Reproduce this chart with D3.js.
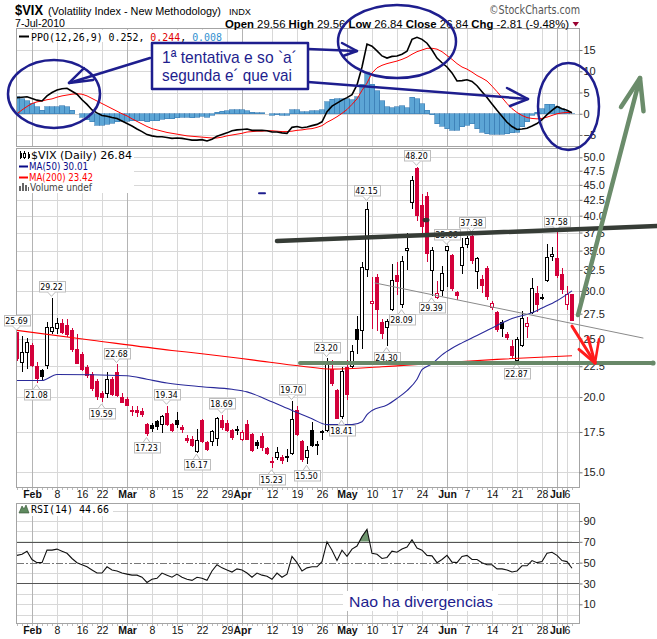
<!DOCTYPE html>
<html><head><meta charset="utf-8"><title>$VIX</title>
<script src="https://cdn.jsdelivr.net/npm/d3@7/dist/d3.min.js"></script>
<style>html,body{margin:0;padding:0;background:#fff}svg{display:block}</style>
</head><body><svg id="chart" width="657" height="639"></svg>
<script>
// ================= DATA =================
const dates = [
"2010-01-27","2010-01-28","2010-01-29",
"2010-02-01","2010-02-02","2010-02-03","2010-02-04","2010-02-05","2010-02-08","2010-02-09","2010-02-10","2010-02-11","2010-02-12",
"2010-02-16","2010-02-17","2010-02-18","2010-02-19","2010-02-22","2010-02-23","2010-02-24","2010-02-25","2010-02-26",
"2010-03-01","2010-03-02","2010-03-03","2010-03-04","2010-03-05","2010-03-08","2010-03-09","2010-03-10","2010-03-11","2010-03-12",
"2010-03-15","2010-03-16","2010-03-17","2010-03-18","2010-03-19","2010-03-22","2010-03-23","2010-03-24","2010-03-25","2010-03-26",
"2010-03-29","2010-03-30","2010-03-31",
"2010-04-01","2010-04-05","2010-04-06","2010-04-07","2010-04-08","2010-04-09","2010-04-12","2010-04-13","2010-04-14","2010-04-15","2010-04-16",
"2010-04-19","2010-04-20","2010-04-21","2010-04-22","2010-04-23","2010-04-26","2010-04-27","2010-04-28","2010-04-29","2010-04-30",
"2010-05-03","2010-05-04","2010-05-05","2010-05-06","2010-05-07","2010-05-10","2010-05-11","2010-05-12","2010-05-13","2010-05-14",
"2010-05-17","2010-05-18","2010-05-19","2010-05-20","2010-05-21","2010-05-24","2010-05-25","2010-05-26","2010-05-27","2010-05-28",
"2010-06-01","2010-06-02","2010-06-03","2010-06-04","2010-06-07","2010-06-08","2010-06-09","2010-06-10","2010-06-11",
"2010-06-14","2010-06-15","2010-06-16","2010-06-17","2010-06-18","2010-06-21","2010-06-22","2010-06-23","2010-06-24","2010-06-25",
"2010-06-28","2010-06-29","2010-06-30","2010-07-01","2010-07-02","2010-07-06","2010-07-07"];

const open = [25.60,22.80,23.70,24.40,22.50,22.10,22.60,25.70,26.00,26.50, 26.30,25.80,24.00,23.50,22.40,21.80,21.20,20.25,20.30,21.40,
 22.00,20.00,19.80,18.90,19.00,18.90,18.00,17.95,18.20,18.00, 18.80,18.00,18.30,17.80,17.10,17.00,16.25,18.30,16.80,16.90,
 17.10,18.30,18.10,17.60,17.65,17.00,18.00,17.30,16.80,17.20, 16.40,15.65,15.90,15.90,15.95,16.10,19.00,16.90,15.90,17.60,
 16.70,17.55,17.60,22.20,20.50,18.60,22.40,22.50,25.90,25.80, 32.60,28.60,31.60,26.60,26.10,28.00,31.80,28.50,35.00,42.00,
 47.90,41.60,43.00,32.40,29.30,30.10,35.00,34.30,29.80,33.10, 35.80,37.00,32.30,31.30,32.70,28.20,27.60,26.60,25.40,24.30,
 23.00,24.40,26.20,27.60,29.70,29.30,31.20,34.20,34.00,31.90, 28.50,29.56];
const high = [25.69,25.30,25.10,24.60,22.90,22.30,26.60,29.22,27.10,26.90, 26.90,26.00,25.40,23.80,22.60,22.00,21.40,20.50,22.00,21.60,
 22.68,20.30,20.00,19.30,19.30,19.20,18.10,18.10,18.30,18.70, 19.34,18.10,18.90,18.00,17.30,17.20,17.70,18.40,16.90,17.60,
 18.50,18.69,18.30,17.70,17.90,17.60,18.30,17.40,17.00,17.40, 16.50,15.90,16.50,16.00,16.40,19.70,19.30,17.00,16.60,18.20,
 16.90,17.60,23.20,23.00,20.60,22.40,23.00,24.40,27.30,33.50, 42.15,31.70,32.00,26.90,27.00,33.30,33.50,34.30,37.50,46.50,
 48.20,43.50,43.80,35.50,31.20,33.00,35.66,34.60,30.00,36.70, 37.00,37.38,34.20,31.90,33.00,28.90,27.80,26.80,25.60,24.90,
 25.20,27.80,27.20,31.50,30.60,29.60,35.90,35.50,37.58,32.80, 30.60,29.56];
const low = [22.95,22.00,22.30,22.40,21.08,21.30,22.30,25.40,25.40,25.40, 25.20,23.80,22.70,22.10,21.50,20.50,19.80,19.59,19.90,20.10,
 20.00,19.60,19.35,18.60,18.50,18.50,17.23,17.50,17.60,17.40, 17.90,17.50,17.80,17.40,16.80,16.50,16.17,16.80,16.30,16.60,
 16.60,17.60,17.50,17.00,17.30,16.90,17.00,16.20,16.40,16.30, 16.00,15.23,15.70,15.50,15.60,16.00,17.20,15.60,15.50,16.50,
 16.00,17.00,17.50,20.90,18.44,18.41,19.80,22.30,23.60,24.00, 31.70,25.90,25.70,25.00,24.30,27.80,29.50,28.09,32.50,41.00,
 39.20,37.50,33.50,29.39,29.10,29.40,30.50,30.00,29.00,32.00, 35.30,33.30,30.20,29.80,29.00,27.90,25.60,25.20,24.90,23.20,
 22.87,24.20,25.10,27.50,27.70,29.00,31.00,33.70,31.50,29.70, 27.90,26.84];
const close = [23.14,23.73,24.62,22.59,21.48,21.60,26.08,26.11,26.51,25.60, 25.40,23.96,22.73,22.25,21.72,20.63,20.02,19.95,21.37,20.20,
 20.10,19.62,19.40,19.00,18.85,18.72,17.42,17.70,17.90,18.57, 17.99,17.58,18.00,17.69,16.91,16.62,16.97,16.87,16.35,17.55,
 18.40,17.77,17.60,17.13,17.59,17.47,17.02,16.28,16.62,16.46, 16.14,15.58,16.20,15.72,15.89,18.36,17.34,15.73,16.32,16.60,
 16.62,17.47,22.81,21.08,18.44,22.05,20.19,23.84,24.91,32.80, 40.95,28.84,28.00,25.52,26.68,31.24,31.10,33.55,35.32,45.79,
 40.10,38.32,34.61,35.02,29.68,32.07,35.54,30.30,29.46,35.48, 36.60,33.70,33.90,30.60,29.40,28.58,25.87,26.00,25.08,23.40,
 24.88,27.00,26.50,30.30,28.50,29.10,34.10,34.54,31.80,30.12, 29.65,26.84];
const prevClose0 = 24.55;

const ma50Dates = ["2010-01-27","2010-02-03","2010-02-08","2010-03-01","2010-03-05","2010-03-11","2010-03-22","2010-03-30","2010-04-05","2010-04-09",
 "2010-04-16","2010-04-22","2010-04-27","2010-05-04","2010-05-06","2010-05-07","2010-05-10","2010-05-13","2010-05-17","2010-05-19",
 "2010-05-21","2010-05-24","2010-05-26","2010-05-28","2010-06-02","2010-06-04","2010-06-09","2010-06-11","2010-06-15","2010-06-18",
 "2010-06-24","2010-06-28","2010-07-01","2010-07-07"];
const ma50Vals = [21.3,21.3,21.8,21.7,21.4,21.1,20.8,20.6,20.4,19.8, 19.0,18.4,18.0,18.0,18.2,18.7,19.0,19.4,19.9,20.5,
 21.4,22.2,22.7,23.5,24.1,24.6,25.3,25.8,26.3,27.0, 27.6,28.1,28.9,30.01];
const ma200Dates = ["2010-01-27","2010-02-18","2010-03-12","2010-03-22","2010-04-06","2010-04-20","2010-04-28","2010-05-12","2010-05-28","2010-06-15","2010-07-07"];
const ma200Vals = [25.8,24.85,23.9,23.6,23.05,22.5,22.25,22.45,22.8,23.1,23.42];

const ppo = [3.8,3.9,4.0,3.6,3.2,3.0,4.2,5.0,5.6,5.9, 6.0,5.3,4.6,3.3,2.2,0.9,0.2,-0.4,-0.6,-0.9,
 -1.1,-1.7,-2.3,-2.9,-3.6,-4.2,-4.9,-5.2,-5.4,-5.4, -5.6,-5.8,-5.7,-5.8,-6.0,-6.2,-6.2,-6.1,-6.4,-6.0,
 -5.3,-4.9,-4.5,-4.0,-3.8,-3.7,-3.6,-3.9,-3.9,-3.9, -4.0,-4.3,-4.3,-4.5,-4.6,-3.2,-3.0,-3.3,-3.1,-2.8,
 -2.5,-1.9,0.5,1.8,2.5,3.2,3.8,4.5,6.8,11.0, 16.4,15.9,14.8,13.6,13.1,13.5,13.6,14.0,14.7,17.5,
 18.0,17.5,16.6,15.0,13.1,12.0,11.0,9.6,7.7,7.8, 8.0,7.6,6.6,5.2,3.8,2.3,0.8,-0.6,-2.0,-3.0,
 -3.7,-3.6,-3.4,-2.9,-2.3,-1.4,-0.2,0.8,1.7,1.2, 0.8,0.252];
const ppoSignal = [0.0,0.9,1.7,2.4,2.8,3.0,3.3,3.5,3.9,4.2, 4.4,4.6,4.7,4.6,4.2,3.6,3.0,2.4,1.8,1.2,
 0.6,0.0,-0.5,-1.2,-1.8,-2.4,-3.0,-3.5,-3.8,-4.1, -4.4,-4.6,-4.8,-5.0,-5.2,-5.3,-5.4,-5.5,-5.6,-5.7,
 -5.7,-5.5,-5.2,-5.0,-4.8,-4.6,-4.3,-4.2,-4.1,-4.1, -4.0,-4.0,-4.1,-4.2,-4.2,-4.1,-3.9,-3.8,-3.6,-3.5,
 -3.2,-2.8,-2.0,-1.4,-0.7,0.1,1.0,2.2,3.5,5.5, 7.2,9.6,10.8,11.4,11.8,12.1,12.4,12.8,13.3,14.0,
 14.6,15.0,15.4,15.4,15.2,14.6,13.7,12.8,11.8,11.0, 10.5,9.8,9.0,8.4,7.7,6.5,5.2,3.8,2.4,1.2,
 0.3,-0.4,-0.9,-1.1,-1.2,-1.1,-0.8,-0.4,0.0,0.2, 0.3,0.244];
const ppoHist = [4.0,3.5,3.1,2.5,1.6,0.8,1.6,1.7,1.7,1.9, 1.6,0.8,0.0,-0.8,-1.4,-1.9,-2.7,-2.7,-2.5,-2.2,
 -1.9,-1.8,-1.8,-1.7,-1.7,-1.6,-1.9,-1.7,-1.6,-1.3, -1.2,-1.2,-0.9,-0.8,-0.8,-0.9,-0.8,-0.6,-0.8,-0.3,
 0.4,0.6,0.7,1.0,1.0,0.9,0.7,0.3,0.2,0.2, 0.0,-0.3,-0.2,-0.3,-0.4,0.9,0.9,0.5,0.5,0.7,
 0.7,0.9,2.8,3.4,3.5,3.5,3.5,3.3,4.0,7.0, 9.7,7.0,5.4,3.1,1.6,1.4,1.6,1.9,1.4,3.9,
 3.5,2.3,0.8,-0.2,-2.3,-2.9,-3.5,-3.9,-3.9,-3.1, -2.7,-2.3,-3.5,-4.3,-4.7,-4.8,-4.8,-4.8,-4.7,-4.5,
 -4.3,-3.1,-1.9,-0.4,0.3,1.2,2.2,2.2,1.7,1.2, 0.6,0.008];

const rsi = [57,58,61,53,50,50,62,62,63,61, 59,54,50,48,46,43,40,40,46,43,
 42,40,39,38,38,36,31,34,35,40, 38,36,39,36,34,33,36,35,33,42,
 48,45,43,41,44,43,40,36,40,38, 37,34,40,36,39,56,50,42,45,46,
 46,51,70,62,52,62,56,63,66,75, 82,59,58,54,55,61,60,63,65,72,
 64,62,57,56.5,50,53,57,50.5,50,56, 57,53,53,50,48,48,44,44,43,41,
 42,47,47,52,50,51,59,60,57,52, 51,44.66];

const priceTicks = [15,17.5,20,22.5,25,27.5,30,32.5,35,37.5,40,42.5,45,47.5,50];
const ppoTicks = [-5,0,5,10,15];
const rsiTicks = [10,30,50,70,90];
const tickDates = ["2010-02-01","2010-02-08","2010-02-16","2010-02-22","2010-03-01","2010-03-08","2010-03-15","2010-03-22","2010-03-29",
 "2010-04-01","2010-04-12","2010-04-19","2010-04-26","2010-05-03","2010-05-10","2010-05-17","2010-05-24",
 "2010-06-01","2010-06-07","2010-06-14","2010-06-21","2010-06-28","2010-07-01","2010-07-06"];
const tickLabels = ["Feb","8","16","22","Mar","8","15","22","29","Apr","12","19","26","May","10","17","24","Jun","7","14","21","28","Jul","6"];

const swingDates = ["2010-01-27","2010-02-05","2010-02-02","2010-02-25","2010-02-22","2010-03-11","2010-03-05","2010-03-26","2010-03-19",
 "2010-04-12","2010-04-16","2010-04-21","2010-04-27","2010-04-30","2010-05-07","2010-05-13","2010-05-21","2010-05-18","2010-05-26",
 "2010-06-01","2010-06-08","2010-06-21","2010-07-01"];
const swingVals = [25.69,29.22,21.08,22.68,19.59,19.34,17.23,18.69,16.17,15.23,19.70,15.50,23.20,18.41,42.15,24.30,48.20,28.09,29.39,35.66,37.38,22.87,37.58];
const swingKind = ["H","H","L","H","L","H","L","H","L","L","H","L","H","L","H","L","H","L","L","H","H","L","H"];

// ================= CHART =================
const svg = d3.select('#chart');
const SANS = 'Liberation Sans, Arial, Helvetica, sans-serif';
const DV = 'DejaVu Sans, Verdana, sans-serif';
const MONO = 'DejaVu Sans Mono, monospace';
const RED = '#d3003a', NAVY = '#0a0a88', ANN = '#1e1e8e';
const GRID = '#d8d8d8', GRIDM = '#b4b4b4', BORDER = '#a4a4a4';
const L = 16.5, R = 579.5;
const P1 = {t: 28.5, b: 146.5}, P2 = {t: 148.5, b: 487.5}, P3 = {t: 503.5, b: 623.5};
const N = dates.length;

const xp = d3.scalePoint().domain(dates).range([17, 572]);
const xi = d3.scaleLinear().domain([0, N - 1]).range([17, 572]);
const yP = d3.scaleLog().domain([50, 15]).range([157.3, 472.3]);
const yO = d3.scaleLinear().domain([15, -5]).range([50, 135]);
const yR = d3.scaleLinear().domain([90, 10]).range([521, 604.3]);
const snap = v => Math.round(v) + 0.5;

svg.append('rect').attr('width', 657).attr('height', 639).attr('fill', '#fff');
const defs = svg.append('defs');
function clip(id, p) {
  defs.append('clipPath').attr('id', id).append('rect')
    .attr('x', L).attr('y', p.t).attr('width', R - L).attr('height', p.b - p.t);
  return `url(#${id})`;
}
const c1 = clip('c1', P1), c2 = clip('c2', P2), c3 = clip('c3', P3);

function panelGrid(p, yScale, yVals) {
  const g = svg.append('g').attr('shape-rendering', 'crispEdges');
  g.selectAll('line.h').data(yVals).join('line')
    .attr('x1', L).attr('x2', R).attr('y1', d => snap(yScale(d))).attr('y2', d => snap(yScale(d)))
    .attr('stroke', GRID);
  g.selectAll('line.v').data(tickDates).join('line')
    .attr('x1', d => snap(xp(d))).attr('x2', d => snap(xp(d))).attr('y1', p.t).attr('y2', p.b)
    .attr('stroke', (d, i) => isNaN(+tickLabels[i]) ? GRIDM : GRID);
  return g;
}
function panelBorder(p) {
  svg.append('rect').attr('x', L).attr('y', p.t).attr('width', R - L).attr('height', p.b - p.t)
    .attr('fill', 'none').attr('stroke', BORDER).attr('shape-rendering', 'crispEdges');
}
function yAxis(scale, ticks, fmt) {
  const g = svg.append('g').attr('transform', `translate(${R},0)`)
    .call(d3.axisRight(scale).tickValues(ticks).tickFormat(fmt).tickSize(3).tickSizeOuter(0).tickPadding(1));
  g.select('.domain').remove();
  g.selectAll('.tick line').attr('stroke', '#777');
  g.selectAll('text').attr('font-family', SANS).attr('font-size', 11).attr('fill', '#222');
}
function xAxis(y) {
  const g = svg.append('g').attr('transform', `translate(0,${y})`)
    .call(d3.axisBottom(xp).tickValues(tickDates).tickFormat((d, i) => tickLabels[i]).tickSize(0).tickPadding(3));
  g.select('.domain').remove();
  g.selectAll('text').attr('font-family', SANS).attr('font-size', 10.5).attr('fill', '#111')
    .attr('font-weight', (d, i) => isNaN(+tickLabels[i]) ? 'bold' : 'normal');
  svg.append('g').attr('shape-rendering', 'crispEdges').selectAll('line').data(dates).join('line')
    .attr('x1', d => snap(xp(d))).attr('x2', d => snap(xp(d))).attr('y1', y + 0.5).attr('y2', y + 2.5)
    .attr('stroke', '#bbb');
}

// ---------- PPO panel ----------
panelGrid(P1, yO, ppoTicks);
const gO = svg.append('g').attr('clip-path', c1);
gO.append('g').attr('shape-rendering', 'crispEdges').selectAll('rect').data(ppoHist).join('rect')
  .attr('x', (v, i) => xp(dates[i]) - 2.5).attr('width', 5)
  .attr('y', v => Math.min(yO(v), yO(0))).attr('height', v => Math.abs(yO(v) - yO(0)))
  .attr('fill', '#5ca5d5').attr('stroke', '#3a7db4').attr('stroke-width', 0.6);
gO.append('path').datum(ppoSignal)
  .attr('d', d3.line().x((v, i) => xp(dates[i])).y(v => yO(v)))
  .attr('fill', 'none').attr('stroke', '#f00').attr('stroke-width', 1);
gO.append('path').datum(ppo)
  .attr('d', d3.line().x((v, i) => xp(dates[i])).y(v => yO(v)))
  .attr('fill', 'none').attr('stroke', '#000').attr('stroke-width', 1.6);
panelBorder(P1);
yAxis(yO, ppoTicks, d3.format('d'));
// legend
svg.append('rect').attr('x', 17).attr('y', 30).attr('width', 208).attr('height', 12).attr('fill', '#fff');
svg.append('line').attr('x1', 19).attr('x2', 29).attr('y1', 36.5).attr('y2', 36.5).attr('stroke', '#000').attr('stroke-width', 2);
{
  const t = svg.append('text').attr('x', 31).attr('y', 40.5).attr('font-family', MONO).attr('font-size', 10)
    .attr('textLength', 191).attr('lengthAdjust', 'spacingAndGlyphs').attr('fill', '#000');
  t.append('tspan').text(`PPO(12,26,9) ${ppo[N - 1].toFixed(3)}, `);
  t.append('tspan').attr('fill', '#e00000').text(ppoSignal[N - 1].toFixed(3));
  t.append('tspan').text(', ');
  t.append('tspan').attr('fill', '#2f8fd0').text(ppoHist[N - 1].toFixed(3));
}

// ---------- Main panel ----------
panelGrid(P2, yP, priceTicks);
const gM = svg.append('g').attr('clip-path', c2);
const cd = dates.map((d, i) => ({d, o: open[i], h: high[i], l: low[i], c: close[i], pc: i ? close[i - 1] : prevClose0}));
const ccol = d => d.c < d.pc ? RED : '#000';
const gC = gM.append('g').attr('shape-rendering', 'crispEdges');
gC.selectAll('line').data(cd).join('line')
  .attr('x1', d => xp(d.d) + 0.5).attr('x2', d => xp(d.d) + 0.5)
  .attr('y1', d => yP(d.h)).attr('y2', d => yP(d.l)).attr('stroke', ccol);
gC.selectAll('rect').data(cd).join('rect')
  .attr('x', d => xp(d.d) - 1.5).attr('width', 3)
  .attr('y', d => yP(Math.max(d.o, d.c)))
  .attr('height', d => Math.max(0.5, yP(Math.min(d.o, d.c)) - yP(Math.max(d.o, d.c))))
  .attr('fill', d => d.c < d.o ? ccol(d) : '#fff').attr('stroke', ccol);
gM.append('path').datum(ma200Dates.map((d, i) => [d, ma200Vals[i]]))
  .attr('d', d3.line().x(d => xp(d[0])).y(d => yP(d[1])).curve(d3.curveMonotoneX))
  .attr('fill', 'none').attr('stroke', '#f00').attr('stroke-width', 1.1);
gM.append('path').datum(ma50Dates.map((d, i) => [d, ma50Vals[i]]))
  .attr('d', d3.line().x(d => xp(d[0])).y(d => yP(d[1])).curve(d3.curveMonotoneX))
  .attr('fill', 'none').attr('stroke', '#2a2a9a').attr('stroke-width', 1.1);
panelBorder(P2);
yAxis(yP, priceTicks, d3.format('.1f'));

// swing labels
const gS = svg.append('g');
swingDates.forEach((d, k) => {
  const v = swingVals[k], hi = swingKind[k] === 'H';
  const cx = xp(d) - 0.5, y = yP(v), w = 26, h = 10.5;
  const by = hi ? y - 6 - h : y + 6;
  const nb = hi ? by + h : by, nt = hi ? y - 1.5 : y + 1.5;
  gS.append('rect').attr('x', Math.round(cx - w / 2) + 0.5).attr('y', Math.round(by) + 0.5)
    .attr('width', w).attr('height', h).attr('fill', '#fff').attr('stroke', '#bdbdbd');
  gS.append('path').attr('d', `M${cx - 3.5},${nb}L${cx},${nt}L${cx + 3.5},${nb}Z`).attr('fill', '#fff').attr('stroke', 'none');
  gS.append('path').attr('d', `M${cx - 3.5},${Math.round(nb) + 0.5}L${cx},${nt}L${cx + 3.5},${Math.round(nb) + 0.5}`)
    .attr('fill', 'none').attr('stroke', '#bdbdbd');
  gS.append('text').attr('x', cx).attr('y', Math.round(by) + 9).attr('text-anchor', 'middle')
    .attr('font-family', DV).attr('font-size', 8.5).attr('textLength', 22.5).attr('lengthAdjust', 'spacingAndGlyphs')
    .attr('fill', '#000').text(v.toFixed(2));
});

// main legend
svg.append('rect').attr('x', 17).attr('y', 149).attr('width', 117).attr('height', 44).attr('fill', '#fff');
{
  const ic = svg.append('g').attr('shape-rendering', 'crispEdges');
  ic.append('line').attr('x1', 20.5).attr('x2', 20.5).attr('y1', 151).attr('y2', 159).attr('stroke', '#000');
  ic.append('rect').attr('x', 19.5).attr('y', 152.5).attr('width', 2).attr('height', 5).attr('fill', '#000');
  ic.append('line').attr('x1', 24.5).attr('x2', 24.5).attr('y1', 151).attr('y2', 159).attr('stroke', '#000');
  ic.append('rect').attr('x', 23.5).attr('y', 153.5).attr('width', 2).attr('height', 4).attr('fill', '#fff').attr('stroke', '#000');
  ic.append('line').attr('x1', 28.5).attr('x2', 28.5).attr('y1', 152).attr('y2', 159).attr('stroke', '#000');
  ic.append('rect').attr('x', 27.5).attr('y', 153.5).attr('width', 2).attr('height', 4).attr('fill', '#000');
  svg.append('text').attr('x', 31).attr('y', 158.5).attr('font-family', DV).attr('font-size', 10)
    .attr('textLength', 101).attr('lengthAdjust', 'spacingAndGlyphs').attr('fill', '#000')
    .text(`$VIX (Daily) ${close[N - 1].toFixed(2)}`);
  svg.append('line').attr('x1', 19).attr('x2', 28).attr('y1', 166.5).attr('y2', 166.5).attr('stroke', NAVY).attr('stroke-width', 2);
  svg.append('text').attr('x', 29).attr('y', 170).attr('font-family', DV).attr('font-size', 10)
    .attr('textLength', 59).attr('lengthAdjust', 'spacingAndGlyphs').attr('fill', NAVY)
    .text(`MA(50) ${ma50Vals[ma50Vals.length - 1].toFixed(2)}`);
  svg.append('line').attr('x1', 19).attr('x2', 28).attr('y1', 177.5).attr('y2', 177.5).attr('stroke', '#f00').attr('stroke-width', 2);
  svg.append('text').attr('x', 29).attr('y', 181).attr('font-family', DV).attr('font-size', 10)
    .attr('textLength', 64).attr('lengthAdjust', 'spacingAndGlyphs').attr('fill', '#f00')
    .text(`MA(200) ${ma200Vals[ma200Vals.length - 1].toFixed(2)}`);
  const vb = svg.append('g').attr('fill', '#666').attr('shape-rendering', 'crispEdges');
  [[19, 186, 2, 5], [22, 183, 2, 8], [25, 185, 2, 6], [28, 187, 1, 4]].forEach(r =>
    vb.append('rect').attr('x', r[0]).attr('y', r[1]).attr('width', r[2]).attr('height', r[3]));
  svg.append('text').attr('x', 30).attr('y', 191).attr('font-family', DV).attr('font-size', 10)
    .attr('textLength', 62).attr('lengthAdjust', 'spacingAndGlyphs').attr('fill', '#444').text('Volume undef');
}
xAxis(P2.b);

// ---------- RSI panel ----------
panelGrid(P3, yR, [0, 10, 20, 40, 60, 80, 90, 100]);
const gR = svg.append('g').attr('clip-path', c3);
defs.append('clipPath').attr('id', 'c70').append('rect')
  .attr('x', L).attr('y', P3.t).attr('width', R - L).attr('height', yR(70) - P3.t);
gR.append('path').datum(rsi).attr('clip-path', 'url(#c70)')
  .attr('d', d3.area().x((v, i) => xp(dates[i])).y0(yR(70)).y1(v => yR(v)))
  .attr('fill', '#6e956e');
const hl = gR.append('g').attr('shape-rendering', 'crispEdges');
hl.append('line').attr('x1', L).attr('x2', R).attr('y1', snap(yR(70))).attr('y2', snap(yR(70))).attr('stroke', '#555');
hl.append('line').attr('x1', L).attr('x2', R).attr('y1', snap(yR(30))).attr('y2', snap(yR(30))).attr('stroke', '#555');
hl.append('line').attr('x1', L).attr('x2', R).attr('y1', snap(yR(50))).attr('y2', snap(yR(50))).attr('stroke', '#777')
  .attr('stroke-dasharray', '7,2,2,2');
gR.append('path').datum(rsi)
  .attr('d', d3.line().x((v, i) => xp(dates[i])).y(v => yR(v)))
  .attr('fill', 'none').attr('stroke', '#111').attr('stroke-width', 1.1);
panelBorder(P3);
yAxis(yR, rsiTicks, d3.format('d'));
svg.append('rect').attr('x', 17).attr('y', 504).attr('width', 96).attr('height', 12).attr('fill', '#fff');
svg.append('path').attr('d', 'M19,513L22,506L24,509L26,505L29,513Z').attr('fill', '#5f8a5f').attr('stroke', '#2f4f2f').attr('stroke-width', 0.6);
svg.append('text').attr('x', 31).attr('y', 513).attr('font-family', MONO).attr('font-size', 10)
  .attr('textLength', 78).attr('lengthAdjust', 'spacingAndGlyphs').attr('fill', '#000')
  .text(`RSI(14) ${rsi[N - 1].toFixed(2)}`);
xAxis(P3.b);

// ---------- Header ----------
svg.append('text').attr('x', 15).attr('y', 15).attr('font-family', SANS).attr('font-weight', 'bold').attr('font-size', 14)
  .attr('textLength', 28).attr('lengthAdjust', 'spacingAndGlyphs').attr('fill', '#000').text('$VIX');
svg.append('text').attr('x', 48).attr('y', 15).attr('font-family', SANS).attr('font-size', 10.3)
  .attr('textLength', 173).attr('lengthAdjust', 'spacingAndGlyphs').attr('fill', '#000').text('(Volatility Index - New Methodology)');
svg.append('text').attr('x', 229).attr('y', 14.5).attr('font-family', SANS).attr('font-size', 9.5)
  .attr('textLength', 22).attr('lengthAdjust', 'spacingAndGlyphs').attr('fill', '#000').text('INDX');
svg.append('text').attr('x', 15).attr('y', 27).attr('font-family', SANS).attr('font-size', 11)
  .attr('textLength', 50).attr('lengthAdjust', 'spacingAndGlyphs').attr('fill', '#000').text('7-Jul-2010');
{
  const last = cd[N - 1], chg = last.c - last.pc, pct = chg / last.pc * 100;
  const t = svg.append('text').attr('x', 225).attr('y', 27.5).attr('font-family', SANS).attr('font-size', 11)
    .attr('textLength', 344).attr('lengthAdjust', 'spacingAndGlyphs').attr('fill', '#000');
  const parts = [['Open', last.o], ['High', last.h], ['Low', last.l], ['Close', last.c]];
  parts.forEach(([k, v]) => {
    t.append('tspan').attr('font-weight', 'bold').text(k);
    t.append('tspan').text(` ${v.toFixed(2)}  `);
  });
  t.append('tspan').attr('font-weight', 'bold').text('Chg');
  t.append('tspan').text(` ${chg.toFixed(2)} (${pct.toFixed(2)}%)`);
  svg.append('path').attr('d', 'M572.5,22L579,22L575.75,26.5Z').attr('fill', '#9a0030');
}
svg.append('text').attr('x', 489).attr('y', 14).attr('font-family', DV).attr('font-size', 11.5)
  .attr('textLength', 91).attr('lengthAdjust', 'spacingAndGlyphs').attr('fill', '#555').text('\u00a9StockCharts.com');

// ================= Hand-drawn annotations (data coordinates) =================
const A = svg.append('g').attr('fill', 'none').attr('stroke-linecap', 'round').attr('stroke-linejoin', 'round');
const pm = p => [xi(p[0]), yP(p[1])];   // main panel (index, price)
const po = p => [xi(p[0]), yO(p[1])];   // PPO panel (index, ppo)
const pr = p => [xi(p[0]), yR(p[1])];   // RSI panel (index, rsi)
const poly = (pts, f, col, w) => A.append('path').attr('d', d3.line()(pts.map(f))).attr('stroke', col).attr('stroke-width', w);

// main-panel lines
poly([[52, 36.3], [128, 38.45]], pm, '#363c36', 4.5);
poly([[56.6, 22.78], [127.2, 22.78]], pm, '#688868', 4);
A.append('circle').attr('cx', pm([127.2, 22.78])[0]).attr('cy', pm([127.2, 22.78])[1]).attr('r', 2.6).attr('fill', '#688868');
poly([[71.6, 30.93], [125.2, 25.06]], pm, '#8a8a8a', 1);
poly([[112.2, 27.36], [124.6, 67.7]], pm, '#6b8c6b', 4.5);
poly([[120.8, 60.6], [124.6, 67.7], [125.3, 59.6]], pm, '#6b8c6b', 4.5);
poly([[111, 26.23], [115.6, 22.78]], pm, '#ff1c1c', 3);
poly([[114.2, 25.14], [115.6, 22.78]], pm, '#ff1c1c', 3);
poly([[112.4, 23.99], [115.6, 22.78]], pm, '#ff1c1c', 3);
poly([[116.4, 24.95], [115.6, 22.78]], pm, '#ff1c1c', 2.5);
poly([[48.4, 43.6], [49.6, 43.6]], pm, ANN, 2);
A.append('ellipse').attr('cx', pm([81.8, 39.34])[0]).attr('cy', pm([81.8, 39.34])[1]).attr('rx', 3.5).attr('ry', 2.3).attr('fill', '#333');

// PPO ellipses [index, ppo, half-width (days), half-height (ppo units)]
const ppoEllipses = [[7.4, 4.65, 9.2, 8.0], [76, 17.0, 11.8, 8.6], [110.3, 1.71, 6.1, 10.24]];
ppoEllipses.forEach(e => {
  const [cx, cy] = po([e[0], e[1]]);
  A.append('ellipse').attr('cx', cx).attr('cy', cy)
    .attr('rx', xi(e[0] + e[2]) - xi(e[0])).attr('ry', yO(e[1] - e[3]) - yO(e[1]))
    .attr('stroke', ANN).attr('stroke-width', 2.5);
});
// PPO arrows
poly([[58.2, 15.24], [68, 14.76]], po, ANN, 2.5);
poly([[65, 16.65], [68, 14.76], [65.2, 13.59]], po, ANN, 2.5);
poly([[58.2, 7.47], [102.2, 3.47]], po, ANN, 2.5);
poly([[98, 6.06], [102.2, 3.47], [98.6, 1.82]], po, ANN, 2.5);
poly([[26.6, 13.12], [10.4, 7.24]], po, ANN, 2.5);
poly([[13.4, 10.76], [10.4, 7.24], [15.2, 7.94]], po, ANN, 2.5);
// text box
{
  const [x0, y0] = po([27, 16.65]), [x1, y1] = po([58.2, 5.82]);
  A.append('rect').attr('x', x0).attr('y', y0).attr('width', x1 - x0).attr('height', y1 - y0)
    .attr('fill', '#fff').attr('stroke', ANN).attr('stroke-width', 2.5);
  const lines = [['1\u00aa tentativa e so  `a\u00b4', 12.0, 135], ['segunda e\u00b4 que vai', 7.7, 130]];
  lines.forEach(([s, v, tl]) => {
    const [tx, ty] = po([29, v]);
    svg.append('text').attr('x', tx).attr('y', ty).attr('font-family', SANS).attr('font-size', 17)
      .attr('textLength', tl).attr('lengthAdjust', 'spacingAndGlyphs').attr('fill', ANN).text(s);
  });
}
// RSI note
{
  const [x0, y0] = pr([65.2, 22.8]), [x1, y1] = pr([96.2, 3.6]);
  svg.append('rect').attr('x', x0).attr('y', y0).attr('width', x1 - x0).attr('height', y1 - y0).attr('fill', '#fff');
  const [tx, ty] = pr([66.4, 7.4]);
  svg.append('text').attr('x', tx).attr('y', ty).attr('font-family', SANS).attr('font-size', 15)
    .attr('textLength', 144).attr('lengthAdjust', 'spacingAndGlyphs').attr('fill', ANN).text('Nao ha divergencias');
}
</script></body></html>
